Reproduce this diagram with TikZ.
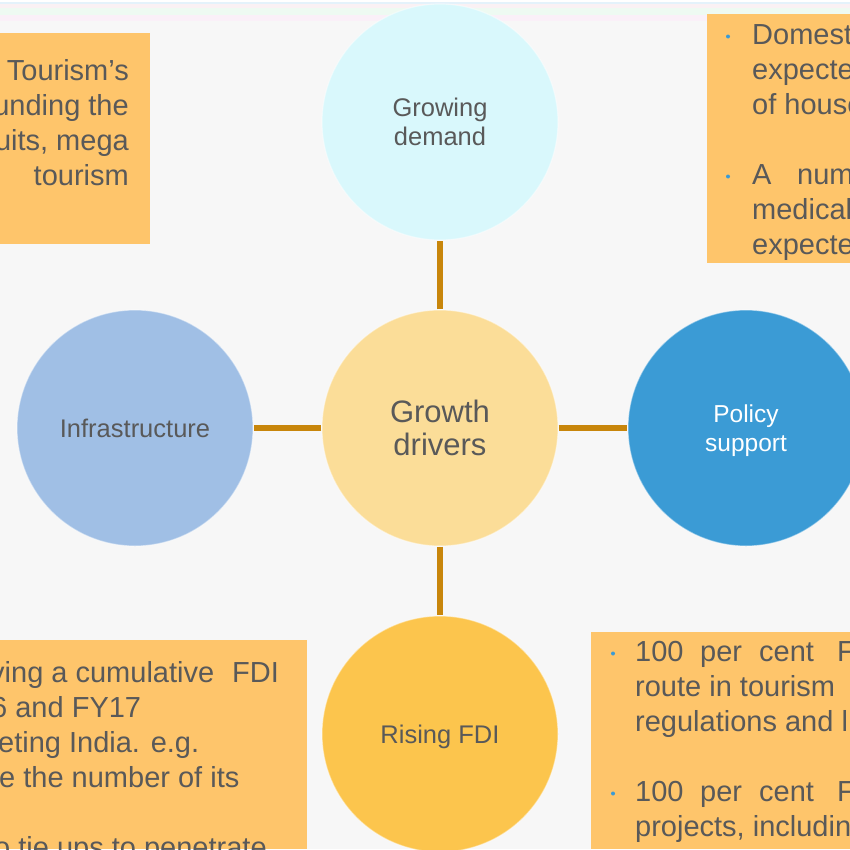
\documentclass[tikz,border=0pt]{standalone}
\usepackage{fontspec}
\setmainfont{Liberation Sans}
\definecolor{bgc}{HTML}{F7F7F7}
\definecolor{txt}{HTML}{595959}
\definecolor{boxc}{HTML}{FEC56B}
\definecolor{connc}{HTML}{C8860B}
\definecolor{bulc}{HTML}{3B9BD5}
\definecolor{ctop}{HTML}{D9F8FC}
\definecolor{cmid}{HTML}{FBDD98}
\definecolor{cleft}{HTML}{A0BFE5}
\definecolor{cright}{HTML}{3B9BD5}
\definecolor{cbot}{HTML}{FCC54D}
\definecolor{strA}{HTML}{E4F2FB}
\definecolor{strB}{HTML}{FAF1F4}
\definecolor{strC}{HTML}{EEFAF2}
\definecolor{strD}{HTML}{FAF0F8}
\tikzset{
  circ/.style={circle, minimum size=236pt, inner sep=0pt, align=center, text=txt,
    draw=white, draw opacity=0.45, line width=1.2pt,
    font=\fontsize{25.5}{29}\selectfont},
  conn/.style={draw=connc, line width=5.5pt},
  boxfill/.style={fill=boxc},
  btxt/.style={inner sep=0pt, text=txt, font=\fontsize{29}{35}\selectfont, anchor=base west},
  btxtr/.style={btxt, anchor=base east},
  bdot/.style={fill=bulc}
}
\begin{document}
\begin{tikzpicture}[x=1pt,y=-1pt]
\useasboundingbox (0,0) rectangle (850,849);
\clip (0,0) rectangle (850,849);
\fill[bgc] (0,0) rectangle (850,849);
% faint top stripes
\fill[white] (0,0) rectangle (850,1.5);
\fill[strA] (0,1.5) rectangle (850,3.5);
\fill[strB] (0,3.5) rectangle (850,8);
\fill[strC] (0,8) rectangle (850,15);
\fill[strD] (0,15) rectangle (850,21);

% text boxes
\fill[boxfill] (0,33) rectangle (150,244);
\fill[boxfill] (707,14) rectangle (850,263);
\fill[boxfill] (0,640) rectangle (307,849);
\fill[boxfill] (591,632) rectangle (850,849);

% top-left box text
\node[btxtr] (tl1) at (129,80) {Tourism’s};
\node[btxtr] (tl2) at (129,115) {unding the};
\node[btxtr] (tl3) at (129,150) {uits, mega};
\node[btxtr] (tl4) at (129,185) {tourism};

% top-right box text
\fill[bdot] (728,36.5) circle (2pt);
\fill[bdot] (728,176.5) circle (2pt);
\node[btxt] (tr1) at (752,44) {Domest};
\node[btxt] (tr2) at (752,79) {expecte};
\node[btxt] (tr3) at (752,114) {of house};
\node[btxt] (tr4a) at (752,184) {A};
\node[btxt] (tr4b) at (797,184) {num};
\node[btxt] (tr5) at (752,219) {medical};
\node[btxt] (tr6) at (752,254) {expecte};

% bottom-left box text
\node[btxt] (bl1a) at (-10,682) {ving a cumulative};
\node[btxt] (bl1b) at (232,682) {FDI};
\node[btxt] (bl2) at (-9,717) {6 and FY17};
\node[btxt] (bl3) at (-2,752) {eting India. e.g.};
\node[btxt] (bl4) at (-1,787) {e the number of its};
\node[btxt] (bl6) at (-6,857) {o tie ups to penetrate};

% bottom-right box text
\fill[bdot] (613,653.5) circle (2pt);
\fill[bdot] (613,793.5) circle (2pt);
\node[btxt] (br1a) at (635,661) {100};
\node[btxt] (br1b) at (700,661) {per};
\node[btxt] (br1c) at (759,661) {cent};
\node[btxt] (br1d) at (837,661) {F};
\node[btxt] (br2) at (635,696) {route in tourism};
\node[btxt] (br3) at (635,731) {regulations and l};
\node[btxt] (br5a) at (635,801) {100};
\node[btxt] (br5b) at (700,801) {per};
\node[btxt] (br5c) at (759,801) {cent};
\node[btxt] (br5d) at (837,801) {F};
\node[btxt] (br6) at (635,836) {projects, includin};

% circles
\node[circ, fill=ctop] (demand) at (440,122) {Growing\\demand};
\node[circ, fill=cmid, font=\fontsize{31}{33.5}\selectfont] (center) at (440,428) {Growth\\drivers};
\node[circ, fill=cleft] (infra) at (135,428) {Infrastructure};
\node[circ, fill=cright, text=white, text depth=0pt, font=\fontsize{24.5}{29}\selectfont] (policy) at (746,428) {Policy\\support};
\node[circ, fill=cbot, text depth=0pt] (fdi) at (440,734) {Rising FDI};

% connectors
\draw[conn] (center) -- (demand);
\draw[conn] (center) -- (infra);
\draw[conn] (center) -- (policy);
\draw[conn] (center) -- (fdi);
\end{tikzpicture}
\end{document}
